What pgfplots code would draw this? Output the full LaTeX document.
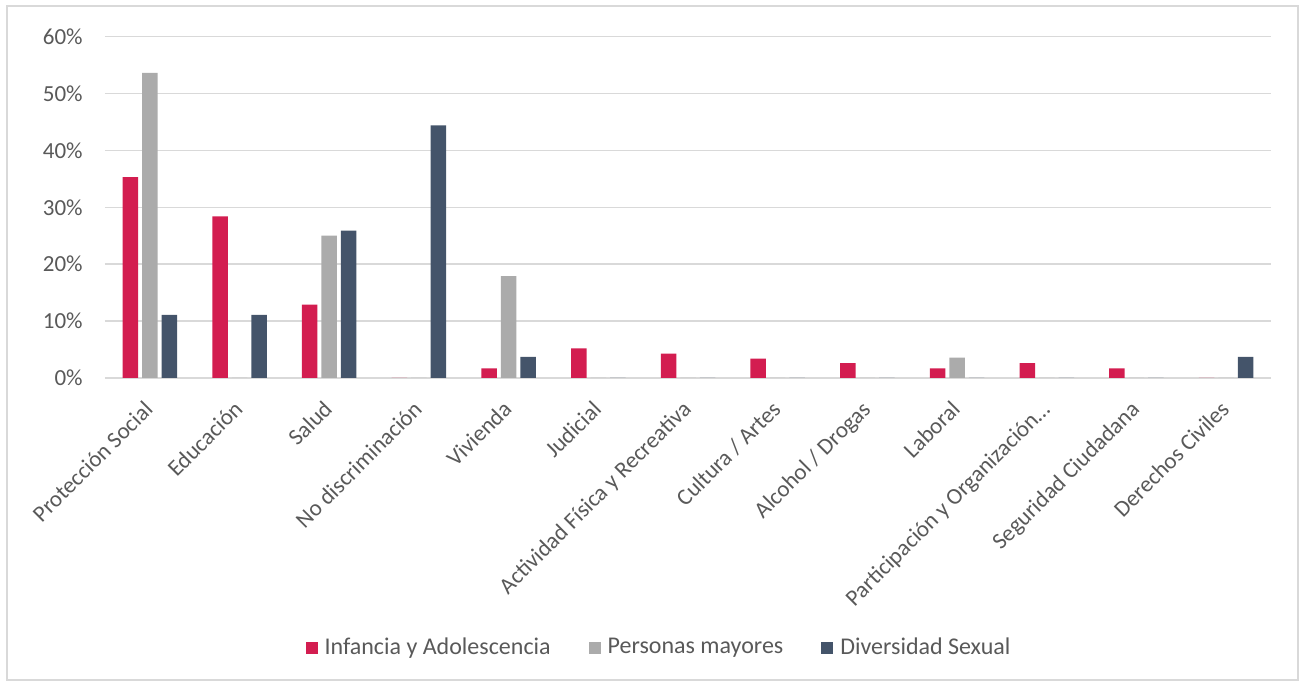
\documentclass[border=0pt]{standalone}
\usepackage{pgfplots}
\pgfplotsset{compat=1.18}
\usepackage{fontspec}
\setmainfont{Carlito}
\definecolor{cred}{HTML}{D31D50}
\definecolor{cgrey}{HTML}{ABABAB}
\definecolor{cdark}{HTML}{44546A}
\definecolor{txt}{HTML}{595959}
\definecolor{gridc}{HTML}{D9D9D9}
\begin{document}
\begin{tikzpicture}
\useasboundingbox (0pt,0pt) rectangle (651pt,342.5pt);
\draw[gridc, line width=0.8pt] (3.5pt,2.5pt) rectangle (649pt,339.5pt);
\begin{axis}[
  at={(52.5pt,153.5pt)}, anchor=south west,
  scale only axis, width=583pt, height=170.75pt,
  xmin=-0.5, xmax=12.5, ymin=0, ymax=60,
  ybar=2pt, bar width=7.75pt,
  axis line style={draw=none},
  major tick length=0pt,
  ymajorgrids, major grid style={gridc, line width=0.75pt},
  ytick={0,10,20,30,40,50,60},
  yticklabels={0\%,10\%,20\%,30\%,40\%,50\%,60\%},
  yticklabel style={font=\fontsize{11.5}{13}\selectfont, text=txt, inner sep=0pt, anchor=east, xshift=-11pt},
  xtick={0,1,2,3,4,5,6,7,8,9,10,11,12},
  xticklabels={Protección Social,Educación,Salud,No discriminación,Vivienda,Judicial,Actividad Física y Recreativa,Cultura / Artes,Alcohol / Drogas,Laboral,Participación y Organización…,Seguridad Ciudadana,Derechos Civiles},
  xticklabel style={font=\fontsize{11.5}{13}\selectfont, text=txt, inner sep=0pt, xshift=-3.5pt, yshift=-10.5pt, rotate=45, anchor=north east},
  legend columns=3,
  legend style={at={(0.476,-0.79)}, anchor=center, draw=none, fill=none,
    font=\fontsize{12}{14}\selectfont, text=txt,
    /tikz/every odd column/.append style={column sep=1.5pt},
    /tikz/every even column/.append style={column sep=17pt}},
]
\addplot[fill=cred, draw=none, legend image code/.code={\fill[cred] (0pt,-3pt) rectangle (6pt,3pt);}] coordinates {
(0,35.3) (1,28.4) (2,12.9) (3,0) (4,1.7) (5,5.2) (6,4.3) (7,3.4) (8,2.6) (9,1.7) (10,2.6) (11,1.7) (12,0)};
\addlegendentry{Infancia y Adolescencia}
\addplot[fill=cgrey, draw=none, legend image code/.code={\fill[cgrey] (0pt,-3pt) rectangle (6pt,3pt);}] coordinates {
(0,53.6) (1,0) (2,25.0) (3,0) (4,17.9) (5,0) (6,0) (7,0) (8,0) (9,3.6) (10,0) (11,0) (12,0)};
\addlegendentry{Personas mayores}
\addplot[fill=cdark, draw=none, legend image code/.code={\fill[cdark] (0pt,-3pt) rectangle (6pt,3pt);}] coordinates {
(0,11.1) (1,11.1) (2,25.9) (3,44.4) (4,3.7) (5,0) (6,0) (7,0) (8,0) (9,0) (10,0) (11,0) (12,3.7)};
\addlegendentry{Diversidad Sexual}
\end{axis}
\end{tikzpicture}
\end{document}
